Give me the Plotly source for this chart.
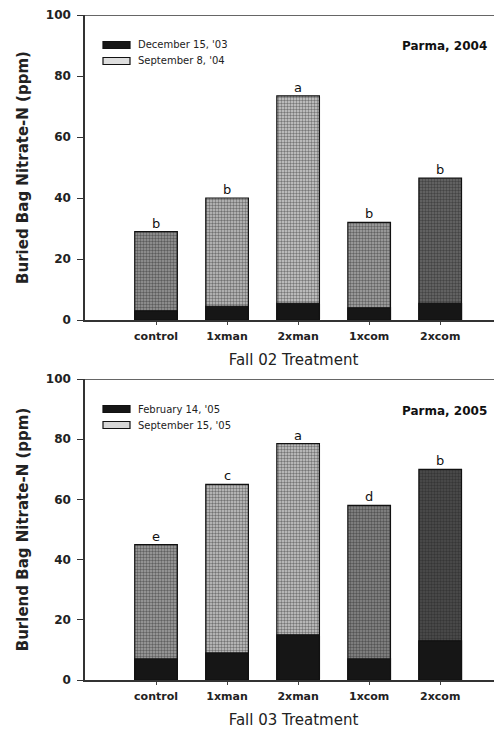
import plotly.graph_objects as go

treatments = ["control", "1xman", "2xman", "1xcom", "2xcom"]

# Panel 1 (Parma, 2004)
dec15_03 = [3, 4.5, 5.5, 4, 5.5]
sep8_04 = [29, 40, 73.5, 32, 46.5]
letters_04 = ["b", "b", "a", "b", "b"]

# Panel 2 (Parma, 2005)
feb14_05 = [7, 9, 15, 7, 13]
sep15_05 = [45, 65, 78.5, 58, 70]
letters_05 = ["e", "c", "a", "d", "b"]

FONT = "DejaVu Sans, sans-serif"
OFF = 8                      # page body margin
W, H = 502 - OFF, 729 - OFF
L = 85 - OFF


def px(xp):   # page x -> paper x
    return (xp - OFF - L) / (W - L)


def py(yp):   # page y -> paper y
    return 1 - (yp - OFF) / H


def speckle(bgs):
    return dict(shape=".", bgcolor=bgs, fgcolor="#1e1e1e", size=3, solidity=0.5)


fig = go.Figure()
fig.add_trace(go.Bar(x=treatments, y=sep8_04, name="September 8, '04", xaxis="x", yaxis="y",
                     width=0.6, showlegend=False,
                     marker=dict(color="#bdbdbd",
                                 pattern=speckle(["#9a9a9a", "#c4c4c4", "#d0d0d0", "#a8a8a8", "#6a6a6a"]),
                                 line=dict(color="#111", width=1.2))))
fig.add_trace(go.Bar(x=treatments, y=dec15_03, name="December 15, '03", xaxis="x", yaxis="y",
                     width=0.6, showlegend=False,
                     marker=dict(color="#161616", line=dict(color="#111", width=1.2))))
fig.add_trace(go.Bar(x=treatments, y=sep15_05, name="September 15, '05", xaxis="x2", yaxis="y2",
                     width=0.6, showlegend=False,
                     marker=dict(color="#bdbdbd",
                                 pattern=speckle(["#a4a4a4", "#c8c8c8", "#cccccc", "#8a8a8a", "#4e4e4e"]),
                                 line=dict(color="#111", width=1.2))))
fig.add_trace(go.Bar(x=treatments, y=feb14_05, name="February 14, '05", xaxis="x2", yaxis="y2",
                     width=0.6, showlegend=False,
                     marker=dict(color="#161616", line=dict(color="#111", width=1.2))))

annotations = []
for t, v, l in zip(treatments, sep8_04, letters_04):
    annotations.append(dict(x=t, y=v, xref="x", yref="y", text=l, showarrow=False, yanchor="bottom",
                            yshift=-1, font=dict(family=FONT, size=13, color="#111")))
for t, v, l in zip(treatments, sep15_05, letters_05):
    annotations.append(dict(x=t, y=v, xref="x2", yref="y2", text=l, showarrow=False, yanchor="bottom",
                            yshift=-1, font=dict(family=FONT, size=13, color="#111")))

shapes = []
# legend-like keys
legend_items = [
    ("December 15, '03", "#161616", 45), ("September 8, '04", "#dedede", 61),
    ("February 14, '05", "#161616", 409), ("September 15, '05", "#d6d6d6", 425),
]
for label, col, yc in legend_items:
    shapes.append(dict(type="rect", xref="paper", yref="paper", x0=px(103), x1=px(130),
                       y0=py(yc + 3.5), y1=py(yc - 3.5), fillcolor=col, line=dict(color="#111", width=1.2)))
    annotations.append(dict(x=px(136), y=py(yc), xref="paper", yref="paper", text=label, showarrow=False,
                            xanchor="left", yanchor="middle", font=dict(family=FONT, size=10, color="#222")))

for text, yc in [("Parma, 2004", 46), ("Parma, 2005", 411)]:
    annotations.append(dict(x=px(489), y=py(yc), xref="paper", yref="paper", text="<b>%s</b>" % text,
                            showarrow=False, xanchor="right", yanchor="middle",
                            font=dict(family=FONT, size=12, color="#111")))

yax_common = dict(range=[0, 100], tickvals=[0, 20, 40, 60, 80, 100], ticks="outside", ticklen=6,
                  tickwidth=1.2, tickcolor="#333", ticklabelstandoff=4,
                  showline=True, linecolor="#333", linewidth=1.5, showgrid=False, zeroline=False,
                  tickfont=dict(family=FONT, size=12, color="#222", weight="bold"), automargin=False)
xax_common = dict(range=[-1.0, 4.87], ticks="outside", ticklen=3, tickcolor="#444", ticklabelstandoff=2,
                  showline=True, linecolor="#333", linewidth=1.5, showgrid=False,
                  tickfont=dict(family=FONT, size=11, color="#222", weight="bold"), automargin=False)

fig.update_layout(
    width=W, height=H,
    margin=dict(l=L, r=0, t=0, b=0),
    paper_bgcolor="white", plot_bgcolor="white",
    barmode="overlay",
    font=dict(family=FONT, color="#111"),
    xaxis=dict(**xax_common, domain=[0, 1], anchor="y",
               title=dict(text="Fall 02 Treatment", font=dict(family=FONT, size=15, color="#222"), standoff=13)),
    yaxis=dict(**yax_common, domain=[py(320), py(15)], anchor="x",
               title=dict(text="Buried Bag Nitrate-N (ppm)",
                          font=dict(family=FONT, size=15, color="#222", weight="bold"), standoff=14)),
    xaxis2=dict(**xax_common, domain=[0, 1], anchor="y2",
                title=dict(text="Fall 03 Treatment", font=dict(family=FONT, size=15, color="#222"), standoff=14)),
    yaxis2=dict(**yax_common, domain=[py(680), py(379)], anchor="x2",
                title=dict(text="Burlend Bag Nitrate-N (ppm)",
                           font=dict(family=FONT, size=15, color="#222", weight="bold"), standoff=14)),
    annotations=annotations,
    shapes=shapes,
)
fig.add_shape(type="line", xref="x domain", yref="y", x0=0, x1=1, y0=100, y1=100,
              line=dict(color="#333", width=1.5))
fig.add_shape(type="line", xref="x2 domain", yref="y2", x0=0, x1=1, y0=100, y1=100,
              line=dict(color="#333", width=1.5))

fig.write_html("out.html")
